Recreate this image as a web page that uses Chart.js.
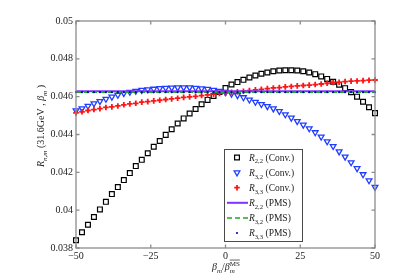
<!DOCTYPE html>
<html lang="en">
<head>
<meta charset="UTF-8">
<title>R_nm vs beta_m</title>
<script src="https://cdn.jsdelivr.net/npm/chart.js@4.4.0/dist/chart.umd.min.js"></script>
<style>
  html, body { margin: 0; padding: 0; background: #fff; }
  #wrap { width: 415px; height: 279px; }
</style>
</head>
<body>
<div id="wrap"><canvas id="c" width="415" height="279"></canvas></div>
<script>
// beta_m / beta_m^MSbar
const betaX = [-50, -48, -46, -44, -42, -40, -38, -36, -34, -32, -30, -28, -26, -24, -22, -20, -18, -16, -14, -12, -10, -8, -6, -4, -2,
    0, 2, 4, 6, 8, 10, 12, 14, 16, 18, 20, 22, 24, 26, 28, 30, 32, 34, 36, 38, 40, 42, 44, 46, 48, 50];

const r22Conv = [0.03841, 0.03883, 0.03923, 0.03964, 0.04004, 0.04044, 0.04085, 0.04122, 0.04159, 0.04196, 0.04233, 0.04266, 0.04301,
    0.04335, 0.04366, 0.04398, 0.04428, 0.04458, 0.04485, 0.04511, 0.04535, 0.0456, 0.04583, 0.04604, 0.04625,
    0.04646, 0.04664, 0.04677, 0.04689, 0.04701, 0.04712, 0.04721, 0.04728, 0.04734, 0.04738, 0.0474, 0.0474, 0.04738, 0.04734,
    0.04728, 0.04719, 0.04707, 0.04694, 0.04679, 0.04663, 0.04645, 0.04624, 0.046, 0.04573, 0.04544, 0.04513];

const r32Conv = [0.04527, 0.04537, 0.04551, 0.04564, 0.04576, 0.04588, 0.04599, 0.04609, 0.04618, 0.04625, 0.0463, 0.04635, 0.04638,
    0.04641, 0.04644, 0.04646, 0.04647, 0.04648, 0.04648, 0.04648, 0.04646, 0.04643, 0.0464, 0.04635, 0.0463,
    0.04623, 0.04615, 0.04607, 0.04596, 0.04584, 0.04572, 0.0456, 0.04549, 0.04537, 0.04523, 0.04506, 0.04488, 0.0447, 0.04451,
    0.04432, 0.04411, 0.04388, 0.04363, 0.04338, 0.0431, 0.04282, 0.04252, 0.04221, 0.04189, 0.04157, 0.04122];

const r33Conv = [0.04514, 0.0452, 0.04527, 0.04532, 0.04537, 0.04543, 0.04546, 0.04551, 0.04557, 0.04562, 0.04565, 0.04571, 0.04574,
    0.04578, 0.04581, 0.04585, 0.04588, 0.04592, 0.04596, 0.04599, 0.04602, 0.04606, 0.04609, 0.04613, 0.04617,
    0.0462, 0.04623, 0.04626, 0.04629, 0.04632, 0.04636, 0.04639, 0.04643, 0.04646, 0.04648, 0.04652, 0.04654, 0.04657, 0.04659,
    0.04661, 0.04664, 0.04667, 0.04671, 0.04675, 0.04676, 0.0468, 0.04682, 0.04683, 0.04685, 0.04687, 0.04688];

// PMS results (scale independent)
const pmsLineX = [-50, 50];
const r22Pms = [0.04629, 0.04629];
const r32Pms = [0.04623, 0.04623];
const r33Pms = [0.04624, 0.04624, 0.04624, 0.04624, 0.04624, 0.04624, 0.04624, 0.04624, 0.04624, 0.04624, 0.04624, 0.04624, 0.04624,
    0.04624, 0.04624, 0.04624, 0.04624, 0.04624, 0.04624, 0.04624, 0.04624, 0.04624, 0.04624, 0.04624, 0.04624,
    0.04624, 0.04624, 0.04624, 0.04624, 0.04624, 0.04624, 0.04624, 0.04624, 0.04624, 0.04624, 0.04624, 0.04624, 0.04624, 0.04624,
    0.04624, 0.04624, 0.04624, 0.04624, 0.04624, 0.04624, 0.04624, 0.04624, 0.04624, 0.04624, 0.04624, 0.04624];

const legendSubs = ['2,2', '3,2', '3,3', '2,2', '3,2', '3,3'];
const legendMethods = ['(Conv.)', '(Conv.)', '(Conv.)', '(PMS)', '(PMS)', '(PMS)'];

const xTicks = [-50, -25, 0, 25, 50];
const xTickLabels = ['\u221250', '\u221225', '0', '25', '50'];
const yTicks = [0.038, 0.04, 0.042, 0.044, 0.046, 0.048, 0.05];
const yTickLabels = ['0.038', '0.04', '0.042', '0.044', '0.046', '0.048', '0.05'];

const SERIF = "'Liberation Serif', 'DejaVu Serif', serif";

function pts(xs, ys) {
    return xs.map((x, i) => ({ x: x, y: ys[i] }));
}

// draw text pieces with italics / sub / superscripts
function richWidth(ctx, parts, size) {
    let w = 0;
    parts.forEach(p => {
        const fs = p.s ? size * 0.7 : size;
        ctx.font = (p.it ? 'italic ' : '') + fs + 'px ' + SERIF;
        let pw = ctx.measureText(p.t).width;
        if (p.sup) pw = Math.max(pw, ctx.measureText(p.sup).width);
        w += pw;
    });
    return w;
}

function drawRich(ctx, parts, x, y, size, align) {
    let cx = x;
    const total = richWidth(ctx, parts, size);
    if (align === 'center') cx = x - total / 2;
    ctx.textAlign = 'left';
    ctx.textBaseline = 'alphabetic';
    parts.forEach(p => {
        const fs = p.s ? size * 0.7 : size;
        ctx.font = (p.it ? 'italic ' : '') + fs + 'px ' + SERIF;
        let pw = ctx.measureText(p.t).width;
        const dy = p.s ? size * 0.28 : 0;
        ctx.fillText(p.t, cx, y + dy);
        if (p.sup) {
            ctx.font = fs + 'px ' + SERIF;
            const sw = ctx.measureText(p.sup).width;
            const sy = y - size * 0.45;
            ctx.fillText(p.sup, cx, sy);
            ctx.beginPath();
            ctx.lineWidth = 0.7;
            ctx.moveTo(cx, sy - fs * 0.78);
            ctx.lineTo(cx + sw, sy - fs * 0.78);
            ctx.stroke();
            pw = Math.max(pw, sw);
        }
        cx += pw;
    });
}

function drawMarker(ctx, kind, x, y, ds) {
    ctx.save();
    ctx.beginPath();
    if (kind === 'line') {
        ctx.strokeStyle = ds.borderColor;
        ctx.lineWidth = ds.borderWidth;
        ctx.setLineDash(ds.borderDash || []);
        ctx.moveTo(x - 10, y);
        ctx.lineTo(x + 11, y);
        ctx.stroke();
    } else if (kind === 'rect') {
        const h = ds.pointRadius * Math.SQRT1_2;
        ctx.rect(x - h, y - h, 2 * h, 2 * h);
        ctx.fillStyle = ds.pointBackgroundColor;
        ctx.fill();
        ctx.lineWidth = ds.pointBorderWidth;
        ctx.strokeStyle = ds.pointBorderColor;
        ctx.stroke();
    } else if (kind === 'triangle') {
        const r = ds.pointRadius;
        ctx.moveTo(x, y + r);
        ctx.lineTo(x - r * 0.866, y - r * 0.5);
        ctx.lineTo(x + r * 0.866, y - r * 0.5);
        ctx.closePath();
        ctx.fillStyle = ds.pointBackgroundColor;
        ctx.fill();
        ctx.lineWidth = ds.pointBorderWidth;
        ctx.strokeStyle = ds.pointBorderColor;
        ctx.stroke();
    } else if (kind === 'cross') {
        const r = ds.pointRadius;
        ctx.moveTo(x - r, y); ctx.lineTo(x + r, y);
        ctx.moveTo(x, y - r); ctx.lineTo(x, y + r);
        ctx.lineWidth = ds.pointBorderWidth;
        ctx.strokeStyle = ds.pointBorderColor;
        ctx.stroke();
    } else {
        ctx.arc(x, y, ds.pointRadius, 0, Math.PI * 2);
        ctx.fillStyle = ds.pointBackgroundColor;
        ctx.fill();
    }
    ctx.restore();
}

const framePlugin = {
    id: 'frame',
    afterDatasetsDraw(chart) {
        const { ctx, chartArea: a, scales } = chart;
        ctx.save();
        ctx.strokeStyle = '#8c8c8c';
        ctx.lineWidth = 1.3;
        ctx.strokeRect(a.left, a.top, a.right - a.left, a.bottom - a.top);
        const L = 3.5;
        ctx.beginPath();
        xTicks.forEach(v => {
            const px = scales.x.getPixelForValue(v);
            ctx.moveTo(px, a.bottom); ctx.lineTo(px, a.bottom - L);
            ctx.moveTo(px, a.top); ctx.lineTo(px, a.top + L);
        });
        yTicks.forEach(v => {
            const py = scales.y.getPixelForValue(v);
            ctx.moveTo(a.left, py); ctx.lineTo(a.left + L, py);
            ctx.moveTo(a.right, py); ctx.lineTo(a.right - L, py);
        });
        ctx.stroke();
        ctx.restore();
    },
    afterDraw(chart) {
        const { ctx, chartArea: a } = chart;
        ctx.save();
        ctx.fillStyle = '#222';
        ctx.strokeStyle = '#222';
        // x title
        drawRich(ctx, [
            { t: '\u03b2', it: true }, { t: 'm', s: 1, it: true }, { t: '/' },
            { t: '\u03b2', it: true }, { t: 'm', s: 1, it: true, sup: 'MS' }
        ], (a.left + a.right) / 2, 270, 10, 'center');
        // y title
        ctx.translate(44, 126);
        ctx.rotate(-Math.PI / 2);
        drawRich(ctx, [
            { t: 'R', it: true }, { t: 'n,m', s: 1, it: true }, { t: ' (31.6GeV , ' },
            { t: '\u03b2', it: true }, { t: 'm', s: 1, it: true }, { t: ' )' }
        ], 0, 0, 10, 'center');
        ctx.restore();

        // legend box
        const box = { x: 224, y: 149, w: 78, h: 92 };
        ctx.save();
        ctx.fillStyle = '#fff';
        ctx.fillRect(box.x, box.y, box.w, box.h);
        ctx.strokeStyle = '#4a4a4a';
        ctx.lineWidth = 1;
        ctx.strokeRect(box.x + 0.5, box.y + 0.5, box.w, box.h);
        const kinds = ['rect', 'triangle', 'cross', 'line', 'line', 'circle'];
        chart.data.datasets.forEach((ds, i) => {
            const ry = 157.5 + i * 15.1;
            drawMarker(ctx, kinds[i], 237, ry, ds);
            ctx.fillStyle = '#222';
            ctx.strokeStyle = '#222';
            drawRich(ctx, [
                { t: 'R', it: true }, { t: legendSubs[i], s: 1 }, { t: ' ' + legendMethods[i] }
            ], 249, ry + 3.3, 9.5, 'left');
        });
        ctx.restore();
    }
};

const tickFont = { family: SERIF, size: 10 };

new Chart(document.getElementById('c'), {
    type: 'scatter',
    data: {
        datasets: [
            {
                label: 'R' + legendSubs[0] + ' ' + legendMethods[0],
                data: pts(betaX, r22Conv), showLine: false,
                pointStyle: 'rect', pointRadius: 3.4, pointBorderWidth: 1.2,
                pointBorderColor: '#000', pointBackgroundColor: '#fff', order: 6
            },
            {
                label: 'R' + legendSubs[1] + ' ' + legendMethods[1],
                data: pts(betaX, r32Conv), showLine: false,
                pointStyle: 'triangle', pointRotation: 180, pointRadius: 3.3, pointBorderWidth: 1.3,
                pointBorderColor: '#1f3cff', pointBackgroundColor: '#fff', order: 5
            },
            {
                label: 'R' + legendSubs[2] + ' ' + legendMethods[2],
                data: pts(betaX, r33Conv), showLine: false,
                pointStyle: 'cross', pointRadius: 2.8, pointBorderWidth: 1.8,
                pointBorderColor: '#ff1414', pointBackgroundColor: '#ff1414', order: 4
            },
            {
                label: 'R' + legendSubs[3] + ' ' + legendMethods[3],
                data: pts(pmsLineX, r22Pms), showLine: true,
                borderColor: '#8033ff', borderWidth: 2, pointRadius: 0, order: 3
            },
            {
                label: 'R' + legendSubs[4] + ' ' + legendMethods[4],
                data: pts(pmsLineX, r32Pms), showLine: true,
                borderColor: '#22aa22', borderWidth: 1.5, borderDash: [5, 3], pointRadius: 0, order: 2
            },
            {
                label: 'R' + legendSubs[5] + ' ' + legendMethods[5],
                data: pts(betaX, r33Pms), showLine: false,
                pointStyle: 'circle', pointRadius: 1.1, pointBorderWidth: 0,
                pointBorderColor: '#0000cc', pointBackgroundColor: '#0000cc', order: 1
            }
        ]
    },
    options: {
        responsive: false,
        animation: false,
        events: [],
        clip: false,
        layout: { padding: { top: 21, right: 40, left: 0, bottom: 0 } },
        plugins: { legend: { display: false }, tooltip: { enabled: false } },
        scales: {
            x: {
                type: 'linear', min: -50, max: 50,
                afterBuildTicks: s => { s.ticks = xTicks.map(v => ({ value: v })); },
                afterFit: s => { s.height = 31; },
                grid: { display: false, drawTicks: false },
                border: { display: false },
                ticks: {
                    font: tickFont, color: '#222', padding: 2, maxRotation: 0, autoSkip: false,
                    callback: v => xTickLabels[xTicks.indexOf(v)]
                }
            },
            y: {
                type: 'linear', min: 0.038, max: 0.05,
                afterBuildTicks: s => { s.ticks = yTicks.map(v => ({ value: v })); },
                afterFit: s => { s.width = 76; },
                grid: { display: false, drawTicks: false },
                border: { display: false },
                ticks: {
                    font: tickFont, color: '#222', padding: 3, autoSkip: false,
                    callback: v => yTickLabels[yTicks.indexOf(v)]
                }
            }
        }
    },
    plugins: [framePlugin]
});
</script>
</body>
</html>
